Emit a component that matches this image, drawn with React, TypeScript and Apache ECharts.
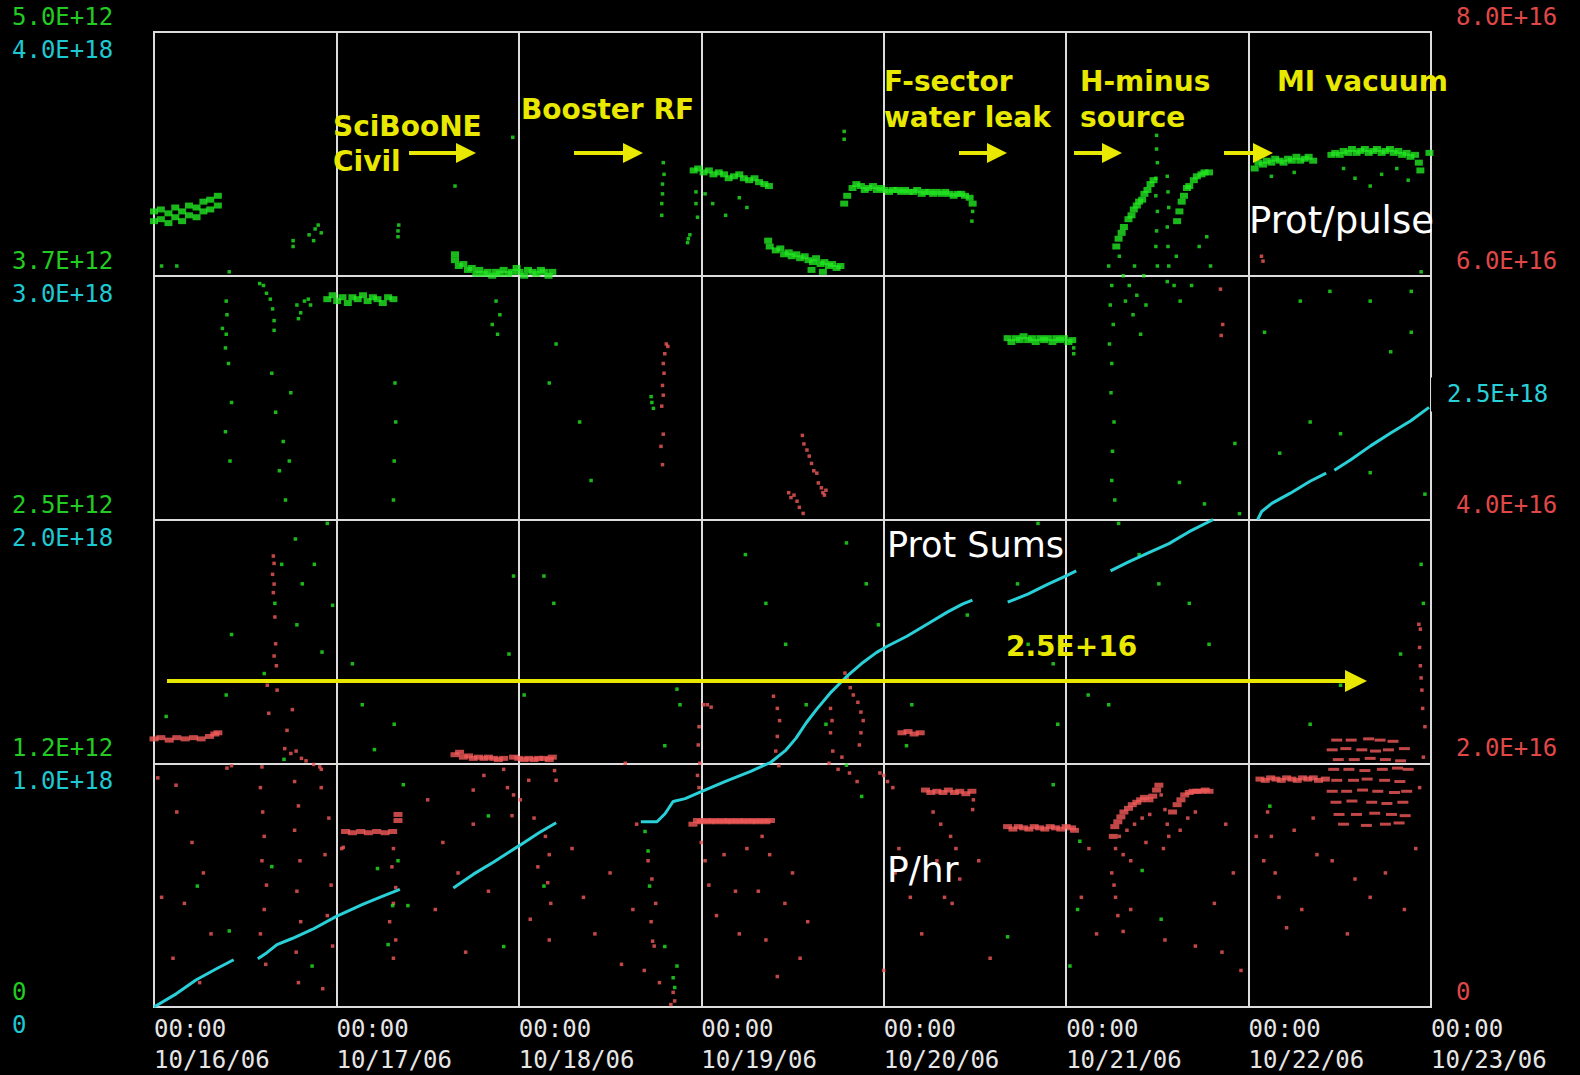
import React, { useEffect, useRef } from "react";
import * as echarts from "echarts";

// ---- tick labels ----
const dayLabels = ["10/16/06", "10/17/06", "10/18/06", "10/19/06", "10/20/06", "10/21/06", "10/22/06", "10/23/06"];
const greenTicks = ["0", "1.2E+12", "2.5E+12", "3.7E+12", "5.0E+12"];
const cyanTicks = ["0", "1.0E+18", "2.0E+18", "3.0E+18", "4.0E+18"];
const redTicks = ["0", "2.0E+16", "4.0E+16", "6.0E+16", "8.0E+16"];

// ---- Prot/pulse (units of 1e12), x in hours since 10/16/06 00:00 ----
const pulseBands = [
  [0, 4.08], [0, 4.03], [0.9, 4.09], [0.9, 4.04], [1.9, 4.07], [1.9, 4.02], [2.8, 4.1], [2.8, 4.05], [3.7, 4.08], [3.7, 4.03],
  [4.6, 4.11], [4.6, 4.06], [5.6, 4.1], [5.6, 4.05], [6.5, 4.13], [6.5, 4.08], [7.4, 4.14], [7.4, 4.09], [8.4, 4.16], [8.4, 4.11],
  [22.8, 3.63], [23.5, 3.65], [24.1, 3.62], [24.8, 3.64], [25.5, 3.61], [26.1, 3.64], [26.8, 3.63], [27.5, 3.65], [28.1, 3.62],
  [28.8, 3.64], [29.4, 3.63], [30.1, 3.61], [30.8, 3.64], [31.5, 3.63],
  [39.6, 3.86], [39.6, 3.83], [40.1, 3.8], [40.7, 3.81], [41.3, 3.78], [41.8, 3.79], [42.4, 3.76], [42.8, 3.78], [43.4, 3.76], [43.9, 3.77],
  [44.5, 3.75], [45.0, 3.77], [45.5, 3.76], [46.0, 3.78], [46.6, 3.76], [47.1, 3.77], [47.7, 3.79], [48.1, 3.77], [48.7, 3.75],
  [49.2, 3.78], [49.8, 3.77], [50.3, 3.76], [50.9, 3.78], [51.3, 3.77], [51.9, 3.75], [52.4, 3.77],
  [71.0, 4.29], [71.6, 4.3], [72.3, 4.28], [73.0, 4.29], [73.6, 4.27], [74.3, 4.28], [75.0, 4.27], [75.6, 4.25], [76.3, 4.26],
  [77.0, 4.27], [77.6, 4.25], [78.3, 4.24], [79.0, 4.25], [79.6, 4.23], [80.3, 4.22], [80.9, 4.21],
  [80.8, 3.93], [81.0, 3.9], [81.8, 3.88], [82.4, 3.89], [82.9, 3.86], [83.5, 3.87], [83.9, 3.85], [84.5, 3.86], [85.0, 3.84],
  [85.6, 3.85], [86.1, 3.83], [86.7, 3.82], [87.1, 3.84], [87.7, 3.81], [88.2, 3.82], [88.8, 3.8], [89.2, 3.81], [89.8, 3.79],
  [90.3, 3.8], [86.5, 3.78], [88.0, 3.77],
  [90.8, 4.12], [91.2, 4.16], [91.9, 4.2], [92.4, 4.22], [93.0, 4.21], [93.5, 4.19], [94.0, 4.2], [94.6, 4.21], [95.1, 4.19],
  [95.6, 4.2], [96.1, 4.19], [96.7, 4.18], [97.2, 4.19], [97.8, 4.19], [98.3, 4.18], [98.8, 4.19], [99.3, 4.18], [99.9, 4.18],
  [100.4, 4.19], [101.0, 4.17], [101.4, 4.18], [102.0, 4.18], [102.5, 4.17], [103.0, 4.18], [103.6, 4.17], [104.1, 4.18],
  [104.6, 4.17], [105.2, 4.16], [105.7, 4.17], [106.2, 4.17], [106.7, 4.16], [107.3, 4.15], [107.7, 4.12],
  [112.3, 3.43], [112.8, 3.41], [113.4, 3.43], [113.9, 3.42], [114.4, 3.44], [115.0, 3.42], [115.5, 3.43], [116.0, 3.41],
  [116.6, 3.43], [117.1, 3.42], [117.6, 3.43], [118.2, 3.41], [118.7, 3.43], [119.2, 3.42], [119.7, 3.43], [120.3, 3.41], [120.8, 3.42],
  [126.6, 3.9], [126.9, 3.94], [127.3, 3.97], [127.6, 4.0], [128.2, 4.04], [128.6, 4.06], [128.9, 4.09], [129.3, 4.11], [129.6, 4.13],
  [130.0, 4.14], [130.3, 4.17], [130.7, 4.19], [131.1, 4.22], [131.5, 4.24], [134.6, 4.03], [134.9, 4.08], [135.2, 4.13],
  [135.5, 4.16], [135.9, 4.2], [136.2, 4.21], [136.8, 4.24], [137.2, 4.26], [137.8, 4.27], [138.2, 4.28], [138.8, 4.28],
  [144.8, 4.3], [145.3, 4.33], [145.9, 4.32], [146.4, 4.34], [147.0, 4.33], [147.5, 4.35], [148.1, 4.34], [148.6, 4.33],
  [149.2, 4.35], [149.7, 4.34], [150.3, 4.36], [150.8, 4.34], [151.4, 4.35], [151.9, 4.36], [152.5, 4.34], [154.9, 4.37],
  [155.4, 4.38], [156.0, 4.37], [156.5, 4.39], [157.1, 4.38], [157.6, 4.4], [158.2, 4.38], [158.7, 4.39], [159.3, 4.4],
  [159.8, 4.38], [160.4, 4.39], [160.9, 4.4], [161.5, 4.38], [162.0, 4.39], [162.6, 4.4], [163.1, 4.38], [163.7, 4.39],
  [164.2, 4.37], [164.8, 4.38], [165.3, 4.36], [165.9, 4.37], [166.4, 4.33], [166.6, 4.29], [167.8, 4.38],
];

const pulseDots = [
  [9.9, 3.77], [13.9, 3.71], [14.4, 3.7], [14.8, 3.66], [15.3, 3.63], [15.6, 3.58], [15.8, 3.52], [15.8, 3.47],
  [18.8, 3.6], [19.3, 3.56], [19.8, 3.62], [20.3, 3.63], [20.6, 3.6], [19.0, 3.53],
  [18.3, 3.9], [18.3, 3.93], [20.4, 3.96], [21.2, 3.99], [21.6, 4.01], [22.0, 3.97], [21.0, 3.93],
  [9.5, 3.62], [9.6, 3.55], [9.5, 3.45], [9.4, 3.38], [32.1, 3.98], [32.1, 3.95], [32.2, 4.01],
  [39.6, 4.21], [47.2, 4.46], [67.0, 4.33], [67.1, 4.27], [66.9, 4.22], [66.9, 4.17], [66.8, 4.12], [66.8, 4.06],
  [70.3, 3.94], [70.5, 3.96], [70.2, 3.92], [65.5, 3.1], [65.4, 3.13], [65.7, 3.07],
  [45.0, 3.62], [45.5, 3.55], [44.5, 3.5], [45.2, 3.45], [52.9, 3.4], [52.0, 3.2], [56.0, 3.0], [57.5, 2.7],
  [15.5, 3.25], [16.0, 3.05], [17.0, 2.9], [16.5, 2.75], [17.3, 2.6], [18.0, 3.15], [17.8, 2.8],
  [9.0, 3.48], [9.8, 3.3], [10.2, 3.1], [9.4, 2.95], [10.0, 2.8], [31.7, 3.2], [31.8, 3.0], [31.6, 2.8], [31.5, 2.6],
  [1.0, 3.8], [3.0, 3.8], [71.3, 4.18], [71.3, 4.12], [71.5, 4.05], [72.5, 4.17], [73.5, 4.12], [75.2, 4.06], [77.0, 4.15], [78.0, 4.1],
  [90.8, 4.49], [90.8, 4.45], [107.7, 4.08], [107.6, 4.03], [121.0, 3.38], [121.0, 3.35],
  [131.9, 4.47], [131.9, 4.4], [132.0, 4.33], [131.8, 4.25], [131.8, 4.16], [132.0, 4.08], [131.9, 3.98], [131.8, 3.9], [132.0, 3.8],
  [133.3, 4.26], [133.4, 4.18], [133.5, 4.1], [133.3, 4.0], [133.4, 3.9], [133.5, 3.8], [133.3, 3.72],
  [125.6, 3.8], [126.0, 3.7], [125.8, 3.6], [126.2, 3.5], [125.7, 3.4], [126.0, 3.3], [125.9, 3.15], [126.3, 3.0], [126.1, 2.85],
  [126.0, 2.7], [126.4, 2.6], [127.0, 3.85], [127.5, 3.75], [127.8, 3.62], [128.3, 3.7], [128.8, 3.55], [129.3, 3.65], [129.0, 3.8],
  [130.2, 3.75], [130.5, 3.6], [129.8, 3.45], [134.5, 3.85], [134.2, 3.7], [135.0, 3.62], [136.5, 3.7], [137.5, 3.9], [138.5, 3.95], [139.0, 3.8],
  [147.0, 4.26], [150.0, 4.28], [156.5, 4.3], [158.0, 4.25], [160.0, 4.21], [161.5, 4.27], [163.5, 4.3], [165.0, 4.24],
  [18.6, 2.4], [16.8, 2.27], [19.5, 2.17], [15.9, 2.07], [18.8, 1.96], [10.2, 1.91], [14.5, 1.71], [9.5, 1.6], [1.6, 1.49],
  [17.1, 1.27], [15.5, 0.72], [5.7, 0.62], [9.9, 0.39], [20.8, 0.21], [30.8, 0.32], [29.4, 0.71], [31.4, 0.52], [31.6, 1.45],
  [23.5, 2.06], [22.1, 1.82], [26.1, 1.76], [29.0, 1.32], [32.8, 1.14], [32.1, 0.75], [33.4, 0.52], [27.4, 1.55], [21.1, 2.27], [22.8, 2.48],
  [47.3, 2.21], [51.3, 2.21], [52.6, 2.07], [46.7, 1.81], [48.7, 1.6], [44.0, 0.98], [51.3, 0.62], [46.0, 0.31],
  [68.8, 1.63], [69.2, 1.55], [67.2, 1.34], [64.6, 0.9], [65.0, 0.8], [65.2, 0.62], [67.2, 0.31], [68.5, 0.1], [68.8, 0.21], [68.3, 0.15],
  [77.8, 2.32], [80.5, 2.07], [83.1, 1.86], [85.8, 1.55], [88.4, 1.45], [91.1, 1.24], [93.1, 1.08], [93.7, 2.17], [95.3, 1.96], [91.1, 2.38],
  [99.7, 1.55], [99.0, 1.34], [107.0, 2.01], [113.6, 2.17], [115.0, 1.86], [116.3, 2.48], [118.3, 1.76], [118.9, 1.45], [112.3, 0.36],
  [120.5, 0.21], [122.9, 1.6], [118.3, 1.14], [125.6, 1.55], [126.9, 2.48], [129.6, 2.32], [132.2, 2.17], [136.2, 2.07], [138.8, 1.86],
  [134.9, 2.69], [138.2, 2.58], [142.2, 2.89], [146.1, 3.46], [150.8, 3.62], [154.7, 3.67], [160.0, 3.62], [165.4, 3.67], [166.7, 3.77],
  [165.4, 3.46], [162.7, 3.36], [148.1, 2.84], [152.1, 3.0], [156.1, 2.94], [160.0, 2.74], [167.2, 2.63], [167.0, 2.07], [164.0, 1.81],
  [156.1, 1.65], [152.1, 1.45], [146.8, 1.03], [166.7, 2.27], [142.8, 2.53], [121.5, 0.5], [121.8, 0.85], [130.0, 0.7], [132.5, 0.45],
];

// ---- P/hr (units of 1e16) ----
const rateBands = [
  [0, 2.2], [0.9, 2.21], [2.0, 2.19], [3.0, 2.21], [4.1, 2.2], [5.2, 2.21], [6.2, 2.2], [7.3, 2.22], [8.0, 2.24], [8.4, 2.25],
  [25.2, 1.44], [26.1, 1.43], [27.2, 1.44], [28.2, 1.43], [29.3, 1.44], [30.4, 1.43], [31.4, 1.44], [32.1, 1.53], [32.1, 1.58],
  [39.6, 2.07], [40.2, 2.09], [40.7, 2.05], [41.4, 2.06], [42.0, 2.04], [42.7, 2.05], [43.4, 2.04], [44.0, 2.05], [44.7, 2.04],
  [45.3, 2.03], [46.0, 2.04], [47.3, 2.05], [48.0, 2.04], [48.7, 2.03], [49.3, 2.04], [50.0, 2.03], [50.6, 2.04], [51.3, 2.04],
  [52.0, 2.03], [52.4, 2.05],
  [70.9, 1.5], [71.5, 1.53], [72.0, 1.52], [72.6, 1.53], [73.1, 1.52], [73.6, 1.53], [74.1, 1.52], [74.7, 1.53], [75.2, 1.52],
  [75.7, 1.53], [76.2, 1.52], [76.8, 1.53], [77.3, 1.52], [77.8, 1.53], [78.4, 1.52], [78.9, 1.53], [79.4, 1.52], [80.0, 1.53],
  [80.5, 1.52], [81.1, 1.53],
  [98.4, 2.25], [99.2, 2.26], [100.0, 2.24], [100.8, 2.25], [101.5, 1.78], [102.2, 1.76], [103.0, 1.77], [103.8, 1.76],
  [104.5, 1.78], [105.3, 1.76], [106.0, 1.77], [106.8, 1.75], [107.6, 1.77],
  [112.3, 1.48], [113.0, 1.46], [113.7, 1.48], [114.4, 1.47], [115.1, 1.46], [115.8, 1.48], [116.5, 1.47], [117.2, 1.46],
  [117.9, 1.48], [118.6, 1.47], [119.3, 1.46], [120.0, 1.48], [120.7, 1.47], [121.1, 1.45],
  [126.2, 1.4], [126.4, 1.48], [126.8, 1.52], [127.2, 1.56], [127.6, 1.6], [128.2, 1.63], [128.7, 1.66], [129.3, 1.68],
  [129.8, 1.7], [130.3, 1.72], [130.9, 1.7], [131.4, 1.73], [131.9, 1.78], [132.2, 1.82], [134.0, 1.6], [134.6, 1.66],
  [135.1, 1.7], [135.6, 1.74], [136.2, 1.76], [136.7, 1.77], [137.2, 1.77], [137.8, 1.77], [138.3, 1.78], [138.8, 1.77],
  [145.5, 1.87], [146.2, 1.86], [146.9, 1.88], [147.6, 1.87], [148.3, 1.86], [149.0, 1.88], [149.7, 1.87], [150.4, 1.86],
  [151.1, 1.88], [151.8, 1.87], [152.5, 1.88], [153.2, 1.86], [154.1, 1.87],
];

// short horizontal dashes of the MI vacuum period
const rateDashes = [
  [155.6, 2.19], [157.5, 2.19], [159.8, 2.2], [161.3, 2.19], [163.0, 2.18],
  [155.0, 2.11], [156.8, 2.12], [158.9, 2.11], [160.7, 2.1], [162.4, 2.11], [164.5, 2.12],
  [155.8, 2.03], [157.9, 2.03], [160.0, 2.04], [162.0, 2.03], [164.0, 2.02],
  [155.2, 1.95], [157.2, 1.95], [159.3, 1.94], [161.6, 1.95], [163.6, 1.96], [165.0, 1.95],
  [155.6, 1.86], [157.8, 1.86], [159.6, 1.87], [161.9, 1.86], [163.9, 1.85],
  [155.0, 1.77], [156.9, 1.77], [159.0, 1.78], [161.0, 1.77], [163.2, 1.76], [164.8, 1.77],
  [155.5, 1.68], [157.6, 1.69], [160.2, 1.68], [162.2, 1.67], [164.3, 1.68],
  [155.9, 1.58], [158.2, 1.58], [160.6, 1.59], [162.8, 1.58], [164.6, 1.57],
  [156.5, 1.5], [159.5, 1.49], [162.0, 1.5], [163.8, 1.51],
];

const rateDots = [
  [15.7, 3.7], [15.8, 3.64], [15.6, 3.55], [15.8, 3.47], [15.7, 3.4], [15.9, 3.2], [16.0, 2.98], [15.8, 2.88], [16.1, 2.8], [16.2, 2.6],
  [17.2, 2.12], [18.0, 2.08], [18.7, 2.1], [19.4, 2.04], [20.0, 2.02], [21.0, 1.99], [21.8, 1.97], [22.0, 1.95],
  [10.2, 1.98], [9.6, 1.96], [14.2, 1.97], [17.5, 2.27], [18.2, 2.44], [15.1, 2.41], [14.9, 2.64], [0.5, 1.88], [2.9, 1.82],
  [24.7, 1.3], [24.9, 1.31], [31.5, 1.3], [31.3, 1.15], [31.8, 0.98], [31.5, 0.85], [31.0, 0.7], [31.8, 0.55], [31.5, 0.4],
  [43.4, 1.9], [46.0, 1.95], [42.0, 1.78], [47.3, 1.74], [47.1, 1.57], [49.3, 1.86], [52.7, 1.94], [52.9, 1.86],
  [46.5, 1.8], [48.2, 1.7], [50.0, 1.55], [51.5, 1.4], [52.0, 1.25], [50.5, 1.15], [51.8, 1.02], [52.2, 0.85], [49.5, 0.72], [52.0, 0.55],
  [67.4, 5.44], [67.6, 5.42], [67.2, 5.36], [67.0, 5.28], [67.1, 5.2], [66.9, 5.1], [67.0, 5.02], [66.8, 4.93], [67.0, 4.7], [66.7, 4.6], [66.9, 4.45],
  [145.7, 6.16], [145.9, 6.12], [140.3, 5.89], [140.6, 5.6], [140.4, 5.51],
  [85.3, 4.69], [85.5, 4.62], [85.9, 4.57], [86.2, 4.52], [86.5, 4.46], [86.8, 4.4], [87.2, 4.38], [87.4, 4.3], [87.8, 4.26], [88.0, 4.22],
  [83.5, 4.22], [83.8, 4.18], [84.2, 4.2], [84.6, 4.15], [84.9, 4.1], [85.4, 4.05], [88.2, 4.2], [88.4, 4.24],
  [72.3, 2.48], [72.8, 2.48], [73.3, 2.46], [71.7, 2.3], [71.6, 2.15], [71.8, 2.0], [71.5, 1.9], [71.7, 1.8],
  [90.9, 2.74], [91.2, 2.7], [91.6, 2.62], [92.0, 2.56], [92.6, 2.5], [93.0, 2.42], [93.3, 2.35], [93.0, 2.25], [92.8, 2.15],
  [89.0, 2.45], [89.2, 2.35], [89.0, 2.25], [89.3, 2.1], [88.8, 2.0], [90.0, 1.95], [90.5, 2.05], [91.5, 1.92], [92.5, 1.85],
  [81.5, 2.55], [82.0, 2.45], [82.3, 2.35], [82.0, 2.22], [81.8, 2.1], [82.2, 1.98],
  [80.0, 1.4], [81.0, 1.25], [84.0, 1.1], [79.5, 0.95], [83.0, 0.85], [86.0, 0.7], [80.5, 0.55], [85.0, 0.4], [82.0, 0.25],
  [95.5, 1.92], [96.0, 1.9], [96.5, 1.85], [97.2, 1.8], [107.8, 1.7], [107.7, 1.62],
  [102.5, 1.6], [103.5, 1.5], [104.8, 1.4], [105.5, 1.3], [103.0, 1.2], [106.0, 1.05], [104.0, 0.9],
  [132.5, 1.74], [133.0, 1.62], [133.3, 1.5], [133.5, 1.4], [127.0, 1.4], [128.0, 1.45], [129.0, 1.5], [130.0, 1.55], [131.0, 1.58],
  [126.5, 1.3], [127.5, 1.25], [128.5, 1.2], [130.5, 1.35], [135.0, 1.45], [136.0, 1.55], [137.0, 1.6], [132.8, 1.3],
  [126.0, 1.1], [126.3, 1.0], [126.5, 0.9], [126.8, 0.75], [127.5, 0.62], [128.5, 0.8], [137.0, 0.5], [133.0, 0.55],
  [146.5, 1.6], [147.0, 1.4], [150.0, 1.45], [152.5, 1.55], [153.0, 1.25], [146.0, 1.2], [148.0, 0.9], [151.0, 0.8],
  [166.4, 3.14], [166.6, 3.1], [166.5, 2.95], [166.6, 2.8], [166.7, 2.7], [166.8, 2.6],
  [65.6, 0.54], [65.8, 0.5], [68.3, 0.12], [68.5, 0.05], [68.0, 0.02], [65.4, 0.7],
  [14.0, 1.8], [14.3, 1.6], [14.5, 1.4], [14.2, 1.2], [14.8, 1.0], [14.5, 0.8], [14.0, 0.6], [14.7, 0.35],
  [18.5, 1.85], [19.0, 1.65], [18.5, 1.45], [19.2, 1.2], [18.8, 0.95], [19.3, 0.7], [18.7, 0.45], [19.0, 0.2],
  [22.0, 1.8], [23.0, 1.55], [22.5, 1.25], [23.3, 1.0], [22.8, 0.75], [23.5, 0.5], [22.2, 0.15],
  [3.0, 1.6], [5.0, 1.35], [6.5, 1.1], [4.0, 0.85], [7.5, 0.6], [2.5, 0.4], [6.0, 0.2], [1.0, 0.9],
  [36.0, 1.7], [38.0, 1.35], [40.0, 1.1], [42.0, 1.5], [37.0, 0.8], [41.0, 0.45], [44.0, 0.95],
  [55.0, 1.3], [56.5, 0.9], [58.0, 0.6], [60.0, 1.1], [61.5, 0.35], [63.0, 0.8], [63.5, 1.5], [62.0, 2.0],
  [65.0, 1.2], [65.5, 1.05], [66.0, 0.85], [64.5, 0.3], [66.5, 0.2],
  [72.0, 1.35], [72.5, 1.2], [73.0, 1.0], [75.0, 1.25], [76.5, 0.95], [74.0, 0.75], [78.0, 1.3], [77.0, 0.6],
  [98.0, 1.3], [97.5, 1.1], [99.5, 0.9], [101.0, 0.6], [105.0, 0.85], [108.5, 1.2], [110.0, 0.4], [96.0, 0.3],
  [122.0, 0.9], [123.0, 1.3], [124.0, 0.6], [139.5, 0.85], [140.5, 0.45], [142.0, 1.1], [141.0, 1.5], [143.0, 0.3],
  [145.0, 1.4], [147.5, 1.1], [149.0, 0.65], [155.0, 1.2], [158.0, 1.05], [160.0, 0.9], [162.0, 1.1], [164.5, 0.8],
  [157.0, 0.6], [166.0, 1.3], [166.5, 1.8], [167.0, 2.05], [167.2, 2.3], [166.9, 2.45],
];

// ---- Prot Sums (units of 1e18), segments separated by gaps ----
const sumSegments = [
  [[0, 0], [2.92, 0.054], [5.57, 0.112], [8.22, 0.157], [10.48, 0.194]],
  [[13.66, 0.198], [14.85, 0.223], [16.18, 0.256], [18.17, 0.281], [20.82, 0.318], [24.0, 0.372], [27.45, 0.421], [30.1, 0.455], [32.35, 0.483]],
  [[39.38, 0.488], [42.03, 0.545], [44.69, 0.595], [48.0, 0.661], [50.65, 0.715], [52.91, 0.756]],
  [[64.05, 0.76], [66.17, 0.76], [67.23, 0.793], [68.29, 0.843], [69.88, 0.855], [72.0, 0.884], [75.18, 0.926], [78.5, 0.967],
    [81.15, 1.004], [83.14, 1.054], [84.47, 1.103], [85.79, 1.165], [87.12, 1.219], [89.11, 1.293], [91.1, 1.355], [93.09, 1.409],
    [95.07, 1.455], [96.4, 1.479], [99.05, 1.521], [101.7, 1.57], [104.36, 1.62], [106.35, 1.653], [107.67, 1.669]],
  [[112.31, 1.661], [114.96, 1.694], [117.62, 1.735], [120.0, 1.769], [121.33, 1.789]],
  [[125.84, 1.789], [128.22, 1.826], [130.88, 1.864], [133.53, 1.901], [136.18, 1.95], [139.36, 2.0]],
  [[145.2, 2.0], [145.73, 2.033], [147.05, 2.066], [149.44, 2.107], [152.09, 2.157], [154.21, 2.19]],
  [[155.28, 2.202], [157.4, 2.244], [160.05, 2.302], [162.7, 2.355], [165.35, 2.405], [167.74, 2.46]],
];

const YELLOW = "#e8e800";
const GREEN = "#22e622";
const RED = "#f25a5a";
const CYAN = "#2ad0d8";
const GRID = "#dcdcdc";
const K = 1580 / 1568;
const P = (v: number) => Math.round(v * K);

function arrow(x1: number, x2: number, y: number, head: number, w: number) {
  const a = P(x1), b = P(x2), yy = P(y), h = P(head);
  return [
    { type: "line", z: 100, shape: { x1: a, y1: yy, x2: b - h + 2, y2: yy }, style: { stroke: YELLOW, lineWidth: w } },
    { type: "polygon", z: 100, shape: { points: [[b - h, yy - h * 0.5], [b, yy], [b - h, yy + h * 0.5]] }, style: { fill: YELLOW } },
  ];
}

function label(text: string, x: number, y: number, color: string, size: number, weight: string) {
  return {
    type: "text", z: 100, x: P(x), y: P(y),
    style: { text, fill: color, fontSize: size, fontWeight: weight, fontFamily: "DejaVu Sans", verticalAlign: "middle", align: "left" },
  };
}

export default function App() {
  const ref = useRef<HTMLDivElement>(null);
  useEffect(() => {
    document.body.style.margin = "0";
    document.body.style.background = "#000";
    const chart = echarts.init(ref.current!, null, { renderer: "svg" });
    const mono = "DejaVu Sans Mono";
    const sumSeries = sumSegments.map((seg, i) => ({
      type: "line", data: seg, xAxisIndex: 0, yAxisIndex: 1, showSymbol: false, symbol: "none", z: 5,
      lineStyle: { color: CYAN, width: 3 }, silent: true,
      endLabel: i === sumSegments.length - 1 ? {
        show: true, formatter: (p: any) => `${p.value[1].toFixed(1)}E+18`, color: CYAN, fontFamily: mono, fontSize: 24,
        backgroundColor: "#000", padding: [5, 6, 5, 16], distance: 2, offset: [0, -13],
      } : { show: false },
    }));
    chart.setOption({
      animation: false,
      backgroundColor: "#000",
      grid: { left: 154, top: 32, right: 149, bottom: 67, show: true, borderColor: GRID, borderWidth: 2, backgroundColor: "transparent" },
      xAxis: {
        type: "value", min: 0, max: 168, interval: 24,
        axisLine: { show: false }, axisTick: { show: false },
        splitLine: { show: true, lineStyle: { color: GRID, width: 2 } },
        axisLabel: {
          formatter: (v: number) => `00:00\n${dayLabels[Math.round(v / 24)]}`,
          color: "#e6e6e6", fontFamily: mono, fontSize: 24, lineHeight: 31, align: "left", margin: 6,
          showMinLabel: true, showMaxLabel: true,
        },
      },
      yAxis: [
        {
          type: "value", min: 0, max: 5, interval: 1.25, position: "left", offset: 0,
          axisLine: { show: false }, axisTick: { show: false },
          splitLine: { show: true, lineStyle: { color: GRID, width: 2 } },
          axisLabel: {
            formatter: (v: number) => greenTicks[Math.round(v / 1.25)], color: "#22cc22", fontFamily: mono, fontSize: 24,
            align: "left", verticalAlign: "bottom", margin: 142, padding: [0, 0, 3, 0], showMaxLabel: true,
          },
        },
        {
          type: "value", min: 0, max: 4, interval: 1, position: "left", offset: 0,
          axisLine: { show: false }, axisTick: { show: false }, splitLine: { show: false },
          axisLabel: {
            formatter: (v: number) => cyanTicks[Math.round(v)], color: "#1ec8d2", fontFamily: mono, fontSize: 24,
            align: "left", verticalAlign: "top", margin: 142, padding: [6, 0, 0, 0], showMaxLabel: true,
          },
        },
        {
          type: "value", min: 0, max: 8, interval: 2, position: "right", offset: 0,
          axisLine: { show: false }, axisTick: { show: false }, splitLine: { show: false },
          axisLabel: {
            formatter: (v: number) => redTicks[Math.round(v / 2)], color: "#e04848", fontFamily: mono, fontSize: 24,
            align: "left", verticalAlign: "bottom", margin: 25, padding: [0, 0, 3, 0], showMaxLabel: true,
          },
        },
      ],
      series: [
        { type: "scatter", data: rateDots, yAxisIndex: 2, symbol: "rect", symbolSize: 3.5, itemStyle: { color: RED }, silent: true, z: 2 },
        { type: "scatter", data: rateBands, yAxisIndex: 2, symbol: "rect", symbolSize: [9, 5], itemStyle: { color: RED }, silent: true, z: 2 },
        { type: "scatter", data: rateDashes, yAxisIndex: 2, symbol: "rect", symbolSize: [11, 3], itemStyle: { color: RED }, silent: true, z: 2 },
        { type: "scatter", data: pulseDots, yAxisIndex: 0, symbol: "rect", symbolSize: 3.5, itemStyle: { color: GREEN }, silent: true, z: 3 },
        { type: "scatter", data: pulseBands, yAxisIndex: 0, symbol: "rect", symbolSize: [8, 6], itemStyle: { color: GREEN }, silent: true, z: 3 },
        ...sumSeries,
      ],
      graphic: [
        label("SciBooNE", 330, 125, YELLOW, 28, "bold"),
        label("Civil", 330, 160, YELLOW, 28, "bold"),
        label("Booster RF", 517, 108, YELLOW, 28, "bold"),
        label("F-sector", 877, 80, YELLOW, 28, "bold"),
        label("water leak", 877, 116, YELLOW, 28, "bold"),
        label("H-minus", 1072, 80, YELLOW, 28, "bold"),
        label("source", 1072, 116, YELLOW, 28, "bold"),
        label("MI vacuum", 1267, 80, YELLOW, 28, "bold"),
        label("2.5E+16", 998, 641, YELLOW, 28, "bold"),
        label("Prot/pulse", 1240, 218, "#ffffff", 37, "normal"),
        label("Prot Sums", 880, 541, "#ffffff", 35, "normal"),
        label("P/hr", 880, 862, "#ffffff", 36, "normal"),
        ...arrow(406, 472, 152, 20, 4),
        ...arrow(570, 638, 152, 20, 4),
        ...arrow(952, 999, 152, 20, 4),
        ...arrow(1066, 1113, 152, 20, 4),
        ...arrow(1215, 1263, 152, 20, 4),
        ...arrow(166, 1357, 676, 22, 4),
      ],
    });
    return () => chart.dispose();
  }, []);
  return <div ref={ref} style={{ width: 1580, height: 1075, background: "#000" }} />;
}
